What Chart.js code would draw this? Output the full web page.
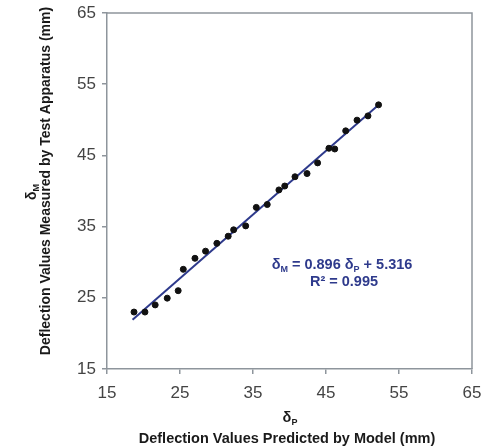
<!DOCTYPE html>
<html><head><meta charset="utf-8">
<script src="https://cdn.jsdelivr.net/npm/chart.js@4"></script>
<style>html,body{margin:0;padding:0;background:#fff;}#wrap{width:482px;height:448px;}</style>
</head><body><div id="wrap"><canvas id="c" width="482" height="448"></canvas></div>
<script>
// Predicted deflection (x, mm) and measured deflection (y, mm)
const predicted = [18.7, 20.2, 21.6, 23.25, 24.75, 25.45, 27.05, 28.5, 30.05, 31.6, 32.35, 34.0, 35.45, 36.95, 38.55, 39.35, 40.75, 42.4, 43.85, 45.4, 46.2, 47.7, 49.25, 50.75, 52.2];
const measured  = [23.0, 23.0, 24.0, 24.95, 26.0, 29.0, 30.55, 31.55, 32.65, 33.65, 34.55, 35.1, 37.7, 38.1, 40.15, 40.7, 42.0, 42.45, 43.95, 46.0, 45.9, 48.45, 49.95, 50.55, 52.1];
// Trend line endpoints
const trendX = [18.5, 52.3];
const trendY = [21.9, 52.2];
const tickValues = [15, 25, 35, 45, 55, 65];

const FONT = '"Liberation Sans", Arial, sans-serif';

function drawRich(ctx, parts, cx, cy, size, color) {
  ctx.save();
  ctx.fillStyle = color;
  ctx.textBaseline = 'middle';
  ctx.textAlign = 'left';
  let total = 0;
  parts.forEach(p => {
    ctx.font = 'bold ' + (p.sub ? Math.round(size * 0.62) : size) + 'px ' + FONT;
    p.w = ctx.measureText(p.t).width;
    total += p.w;
  });
  let x = cx - total / 2;
  parts.forEach(p => {
    ctx.font = 'bold ' + (p.sub ? Math.round(size * 0.62) : size) + 'px ' + FONT;
    ctx.fillText(p.t, x, p.sub ? cy + size * 0.3 : cy);
    x += p.w;
  });
  ctx.restore();
}

const decor = {
  id: 'decor',
  afterDraw(chart) {
    const ctx = chart.ctx;
    const a = chart.chartArea;
    // frame top/right
    ctx.save();
    ctx.strokeStyle = '#8e959c';
    ctx.lineWidth = 1.5;
    ctx.beginPath();
    ctx.moveTo(a.left, a.top);
    ctx.lineTo(a.right, a.top);
    ctx.lineTo(a.right, a.bottom);
    ctx.stroke();
    ctx.restore();
    // x-axis titles
    drawRich(ctx, [{t:'δ'},{t:'P',sub:true}], 290, 418, 14.5, '#1a1a1a');
    drawRich(ctx, [{t:'Deflection Values Predicted by Model (mm)'}], 287, 439, 14.5, '#1a1a1a');
    // y-axis titles
    ctx.save();
    ctx.translate(32, 192);
    ctx.rotate(-Math.PI / 2);
    drawRich(ctx, [{t:'δ'},{t:'M',sub:true}], 0, 0, 14, '#1a1a1a');
    ctx.restore();
    ctx.save();
    ctx.translate(46, 181);
    ctx.rotate(-Math.PI / 2);
    drawRich(ctx, [{t:'Deflection Values Measured by Test Apparatus (mm)'}], 0, 0, 14, '#1a1a1a');
    ctx.restore();
    // equation
    drawRich(ctx, [{t:'δ'},{t:'M',sub:true},{t:' = 0.896 δ'},{t:'P',sub:true},{t:' + 5.316'}], 342, 265, 14.5, '#2e3a8c');
    drawRich(ctx, [{t:'R² = 0.995'}], 344, 282, 14.5, '#2e3a8c');
  }
};

new Chart(document.getElementById('c'), {
  type: 'scatter',
  data: {
    datasets: [
      {
        type: 'line',
        data: trendX.map((x, i) => ({x: x, y: trendY[i]})),
        borderColor: '#2e3a8c',
        borderWidth: 2,
        pointRadius: 0,
        fill: false,
        order: 2
      },
      {
        data: predicted.map((x, i) => ({x: x, y: measured[i]})),
        backgroundColor: '#111',
        borderColor: '#111',
        pointRadius: 3,
        order: 1
      }
    ]
  },
  options: {
    responsive: false,
    animation: false,
    layout: { padding: { top: 13, right: 10, left: 0, bottom: 0 } },
    plugins: { legend: { display: false }, tooltip: { enabled: false } },
    scales: {
      x: {
        type: 'linear', min: 15, max: 65,
        afterBuildTicks: s => { s.ticks = tickValues.map(v => ({value: v})); },
        afterFit: s => { s.height = 79; s.paddingLeft = 0; s.paddingRight = 0; },
        ticks: { font: { family: FONT, size: 17 }, color: '#444', padding: 9, maxRotation: 0 },
        grid: { drawOnChartArea: false, tickLength: 5, color: '#8e959c', lineWidth: 1.5 },
        border: { color: '#8e959c', width: 1.5 }
      },
      y: {
        type: 'linear', min: 15, max: 65,
        afterBuildTicks: s => { s.ticks = tickValues.map(v => ({value: v})); },
        afterFit: s => { s.width = 107; s.paddingTop = 0; s.paddingBottom = 0; },
        ticks: { font: { family: FONT, size: 17 }, color: '#444', padding: 6 },
        grid: { drawOnChartArea: false, tickLength: 5, color: '#8e959c', lineWidth: 1.5 },
        border: { color: '#8e959c', width: 1.5 }
      }
    }
  },
  plugins: [decor]
});
</script></body></html>
